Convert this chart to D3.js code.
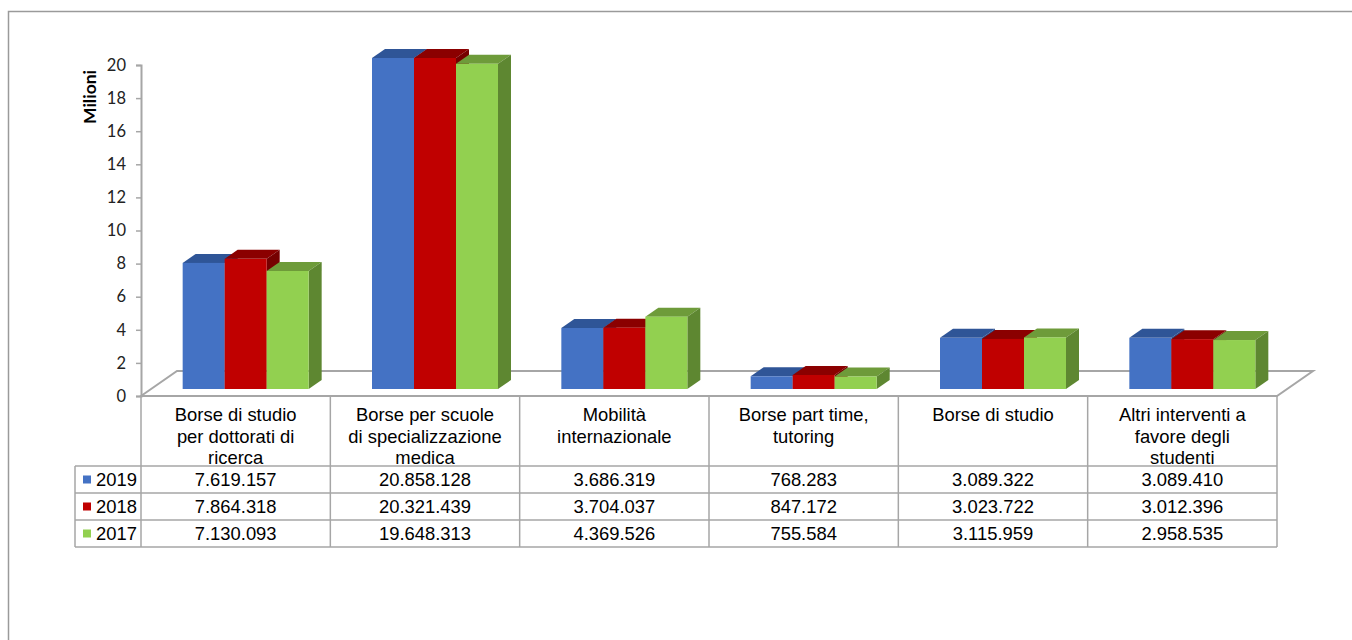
<!DOCTYPE html>
<html>
<head>
<meta charset="utf-8">
<script src="https://cdn.jsdelivr.net/npm/d3@7"></script>
<style>
  html, body { margin: 0; padding: 0; background: #fff; }
  svg { display: block; }
</style>
</head>
<body>
<svg id="chart" width="1352" height="640"></svg>
<script>
// ---------------- data ----------------
const categories = [
  "Borse di studio\nper dottorati di\nricerca",
  "Borse per scuole\ndi specializzazione\nmedica",
  "Mobilità\ninternazionale",
  "Borse part time,\ntutoring",
  "Borse di studio",
  "Altri interventi a\nfavore degli\nstudenti"
];
const seriesNames = ["2019", "2018", "2017"];
const values2019 = [7619157, 20858128, 3686319, 768283, 3089322, 3089410];
const values2018 = [7864318, 20321439, 3704037, 847172, 3023722, 3012396];
const values2017 = [7130093, 19648313, 4369526, 755584, 3115959, 2958535];
const yTicks = [0, 2, 4, 6, 8, 10, 12, 14, 16, 18, 20];
const yTitle = "Milioni";

const seriesValues = [values2019, values2018, values2017];
const seriesColors = [
  { front: "#4472C4", top: "#2F5597", side: "#2A4C88" },
  { front: "#C00000", top: "#8B0000", side: "#760000" },
  { front: "#92D050", top: "#6E9B3A", side: "#5E8731" }
];

// ---------------- layout ----------------
const svg = d3.select("#chart");
const plotLeft = 141, plotRight = 1277, floorY = 396;
const floorDepth = { dx: 36, dy: -25 };
const barShift = { dx: 10, dy: -7 };   // bars sit inside the floor depth
const barDepth = { dx: 13, dy: -9 };
const grey = "#A6A6A6";

const x = d3.scaleBand().domain(categories).range([plotLeft, plotRight]).paddingInner(0).paddingOuter(0);
const xs = d3.scaleBand().domain(seriesNames).range([0, x.bandwidth()]).paddingInner(0).paddingOuter(0.754);
const y = d3.scaleLinear().domain([0, 20]).range([floorY, 65]).clamp(true);

// outer border
svg.append("rect").attr("x", 8.5).attr("y", 11.5).attr("width", 1400).attr("height", 700)
  .attr("fill", "none").attr("stroke", "#9A9A9A").attr("stroke-width", 1.5);

// floor
const fl = [
  [plotLeft, floorY],
  [plotLeft + floorDepth.dx, floorY + floorDepth.dy],
  [plotRight + floorDepth.dx, floorY + floorDepth.dy],
  [plotRight, floorY]
];
svg.append("path").attr("d", d3.line()(fl) + "Z")
  .attr("fill", "none").attr("stroke", grey).attr("stroke-width", 2);

// bars
const gBars = svg.append("g");
categories.forEach((c, ci) => {
  seriesNames.forEach((s, si) => {
    const v = seriesValues[si][ci] / 1e6;
    const x0 = x(c) + xs(s) + barShift.dx;
    const x1 = x0 + xs.bandwidth();
    const yb = y(0) + barShift.dy;
    const yt = y(v) + barShift.dy;
    const col = seriesColors[si];
    const dx = barDepth.dx, dy = barDepth.dy;
    // top
    gBars.append("path").attr("d", d3.line()([[x0, yt], [x0 + dx, yt + dy], [x1 + dx, yt + dy], [x1, yt]]) + "Z")
      .attr("fill", col.top);
    // side
    gBars.append("path").attr("d", d3.line()([[x1, yt], [x1 + dx, yt + dy], [x1 + dx, yb + dy], [x1, yb]]) + "Z")
      .attr("fill", col.side);
    // front
    gBars.append("rect").attr("x", x0).attr("y", yt).attr("width", x1 - x0).attr("height", yb - yt)
      .attr("fill", col.front);
  });
});

// front floor edge redrawn (on top)
svg.append("line").attr("x1", plotLeft).attr("x2", plotRight).attr("y1", floorY).attr("y2", floorY)
  .attr("stroke", grey).attr("stroke-width", 2);

// y axis
const yAxis = d3.axisLeft(y).tickValues(yTicks).tickSize(5).tickPadding(10).tickFormat(d3.format("d"));
const gy = svg.append("g").attr("transform", `translate(${plotLeft},0)`).call(yAxis);
gy.select(".domain").attr("stroke", grey).attr("stroke-width", 2);
gy.selectAll(".tick line").attr("stroke", grey).attr("stroke-width", 1.5);
gy.selectAll(".tick text").attr("font-family", "Lato, 'Open Sans', sans-serif").attr("font-size", 16.5)
  .attr("fill", "#222");

svg.append("text").attr("transform", "translate(96,97) rotate(-90)")
  .attr("text-anchor", "middle").attr("font-family", "Lato, sans-serif").attr("font-weight", "bold")
  .attr("font-size", 17.5).attr("fill", "#000").text(yTitle);

// ---------------- data table ----------------
const fmt = d3.formatLocale({ decimal: ",", thousands: ".", grouping: [3], currency: ["€", ""] }).format(",d");
const tableFont = "'Liberation Sans', Arial, sans-serif";
const tableSize = 18.4;
const rowTop = 466, rowH = 27, legendLeft = 75;
const gT = svg.append("g");

// vertical lines
const colEdges = categories.map(c => x(c)).concat([plotRight]);
colEdges.forEach(cx => {
  gT.append("line").attr("x1", cx).attr("x2", cx).attr("y1", floorY).attr("y2", rowTop + rowH * 3)
    .attr("stroke", grey).attr("stroke-width", 1.5);
});
gT.append("line").attr("x1", legendLeft).attr("x2", legendLeft).attr("y1", rowTop).attr("y2", rowTop + rowH * 3)
  .attr("stroke", grey).attr("stroke-width", 1.5);
// horizontal lines
for (let i = 0; i <= 3; i++) {
  gT.append("line").attr("x1", legendLeft).attr("x2", plotRight)
    .attr("y1", rowTop + rowH * i).attr("y2", rowTop + rowH * i)
    .attr("stroke", grey).attr("stroke-width", 1.5);
}

// header labels
categories.forEach(c => {
  const lines = c.split("\n");
  const t = gT.append("text").attr("text-anchor", "middle").attr("font-family", tableFont)
    .attr("font-size", tableSize).attr("fill", "#000");
  lines.forEach((ln, i) => {
    t.append("tspan").attr("x", x(c) + x.bandwidth() / 2).attr("y", 421 + i * 21.5).text(ln);
  });
});

// rows
seriesNames.forEach((s, si) => {
  const cy = rowTop + rowH * si + rowH / 2;
  gT.append("rect").attr("x", 83).attr("y", cy - 4).attr("width", 8).attr("height", 8)
    .attr("fill", seriesColors[si].front);
  gT.append("text").attr("x", 96).attr("y", cy + 6.5).attr("font-family", tableFont)
    .attr("font-size", tableSize).attr("fill", "#000").text(s);
  categories.forEach((c, ci) => {
    gT.append("text").attr("x", x(c) + x.bandwidth() / 2).attr("y", cy + 6.5)
      .attr("text-anchor", "middle").attr("font-family", tableFont).attr("font-size", tableSize)
      .attr("fill", "#000").text(fmt(seriesValues[si][ci]));
  });
});
</script>
</body>
</html>
